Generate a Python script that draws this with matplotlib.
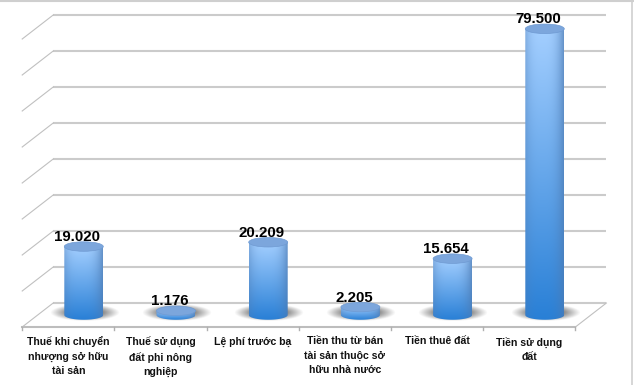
"""Oblique 3D style cylinder chart drawn on a flat axes."""

import matplotlib
matplotlib.use("Agg")
import matplotlib.pyplot as plt
import numpy as np
from matplotlib.patches import Ellipse, PathPatch
from matplotlib.path import Path

plt.rcParams["font.family"] = ["Liberation Sans", "DejaVu Sans"]

categories = [
    "Thuế khi chuyển\nnhượng sở hữu\ntài sản",
    "Thuế sử dụng\nđất phi nông\nnghiệp",
    "Lệ phí trước bạ",
    "Tiền thu từ bán\ntài sản thuộc sở\nhữu nhà nước",
    "Tiền thuê đất",
    "Tiền sử dụng\nđất",
]
values = [19.020, 1.176, 20.209, 2.205, 15.654, 79.500]
value_labels = ["19.020", "1.176", "20.209", "2.205", "15.654", "79.500"]
grid_values = [0, 10, 20, 30, 40, 50, 60, 70, 80]

W, H = 634, 385
PX_X = 92.2   # pixels per category
PX_Y = 3.6    # pixels per value unit
X0_PX = 83.8  # pixel x of first category
Y0_PX = 315   # pixel y of value 0

DX = 31 / PX_X / 2   # half the floor depth, data units
DY = 24 / PX_Y / 2
BAR_W = 39 / PX_X
ELL_H = 9.5 / PX_Y

fig = plt.figure(figsize=(W / 100, H / 100), dpi=100)
ax = fig.add_axes([0, 0, 1, 1])
ax.axis("off")
xlim = (-X0_PX / PX_X, (W - X0_PX) / PX_X)
ylim = ((Y0_PX - H) / PX_Y, Y0_PX / PX_Y)

n = len(categories)
x_front_l, x_front_r = -0.5 - DX, n - 0.5 - DX
x_back_l, x_back_r = -0.5 + DX, n - 0.5 + DX

# back wall and left wall gridlines
for g in grid_values:
    ax.plot([x_back_l, x_back_r], [g + DY, g + DY], color="#cbcbcb", lw=1.5, zorder=1,
            solid_capstyle="butt")
    ax.plot([x_front_l, x_back_l], [g - DY, g + DY], color="#c0c0c0", lw=0.8, zorder=1)

# floor front edge, right edge, tick marks
ax.plot([x_front_l, x_front_r], [-DY, -DY], color="#bdbdbd", lw=1.5, zorder=1)
ax.plot([x_front_r, x_back_r], [-DY, DY], color="#c0c0c0", lw=0.8, zorder=1)
for i in range(n + 1):
    ax.plot([x_front_l + i] * 2, [-DY, -DY - 0.8], color="#b0b0b0", lw=1, zorder=1)

# sheet edge seen at the top and right of the screenshot
ax.axhline(ylim[1] - 0.2, color="#cfcfcf", lw=1.5, zorder=1)
x_edge = xlim[0] + 632.5 / PX_X
ax.plot([x_edge, x_edge], ylim, color="#cfcfcf", lw=1.2, zorder=1)

# soft floor shadows
sx = np.linspace(-1, 1, 80)
sxx, syy = np.meshgrid(sx, sx)
shadow = np.zeros((80, 80, 4))
shadow[..., :3] = 0.30
shadow[..., 3] = 0.85 * np.clip(1.6 - np.sqrt(sxx ** 2 + syy ** 2) * 1.6, 0, 1)

# horizontal and vertical cylinder shading
light = np.array([0.64, 0.81, 1.00])
deep = np.array([0.16, 0.50, 0.84])
edge = np.array([0.30, 0.48, 0.70])


def cylinder_image():
    u = np.linspace(0, 1, 60)
    v = np.linspace(0, 1, 120)
    uu, vv = np.meshgrid(u, v)
    base = deep[None, None, :] * vv[..., None] + light[None, None, :] * (1 - vv[..., None])
    side = np.clip(np.abs(uu - 0.45) / 0.55, 0, 1) ** 3
    side = side[..., None] * 0.7
    return base * (1 - side) + edge * side


for i, (v, lab) in enumerate(zip(values, value_labels)):
    # shadow
    ax.imshow(shadow, extent=(i - 0.37, i + 0.38, -1.6, 3.0), aspect="auto",
              zorder=2, interpolation="bilinear")
    # body
    left, right = i - BAR_W / 2, i + BAR_W / 2
    img = ax.imshow(cylinder_image(), extent=(left, right, -ELL_H / 2, v), aspect="auto",
                    zorder=3, interpolation="bilinear")
    t = np.linspace(np.pi, 2 * np.pi, 40)
    low = np.column_stack([i + BAR_W / 2 * np.cos(t), ELL_H / 2 * np.sin(t)])
    verts = np.vstack([[left, v], low, [right, v], [left, v]])
    clip = PathPatch(Path(verts), transform=ax.transData, fc="none", ec="none")
    ax.add_patch(clip)
    img.set_clip_path(clip)
    # top cap
    ax.add_patch(Ellipse((i, v), BAR_W, ELL_H, fc="#7ca6dc", ec="#6f9ad2", lw=0.5, zorder=4))
    # value label
    ax.text(i - 0.07, v + 2.6, lab, ha="center", va="center", fontsize=10.8,
            fontweight="bold", color="black", zorder=5)

# category labels
for i, cat in enumerate(categories):
    ax.text(i - DX, (Y0_PX - 336.5) / PX_Y, cat, ha="center", va="top", fontsize=7.6,
            fontweight="bold", color="#111111", linespacing=1.5, zorder=5)

ax.set_xlim(xlim)
ax.set_ylim(ylim)
fig.savefig("out.png", dpi=100)
